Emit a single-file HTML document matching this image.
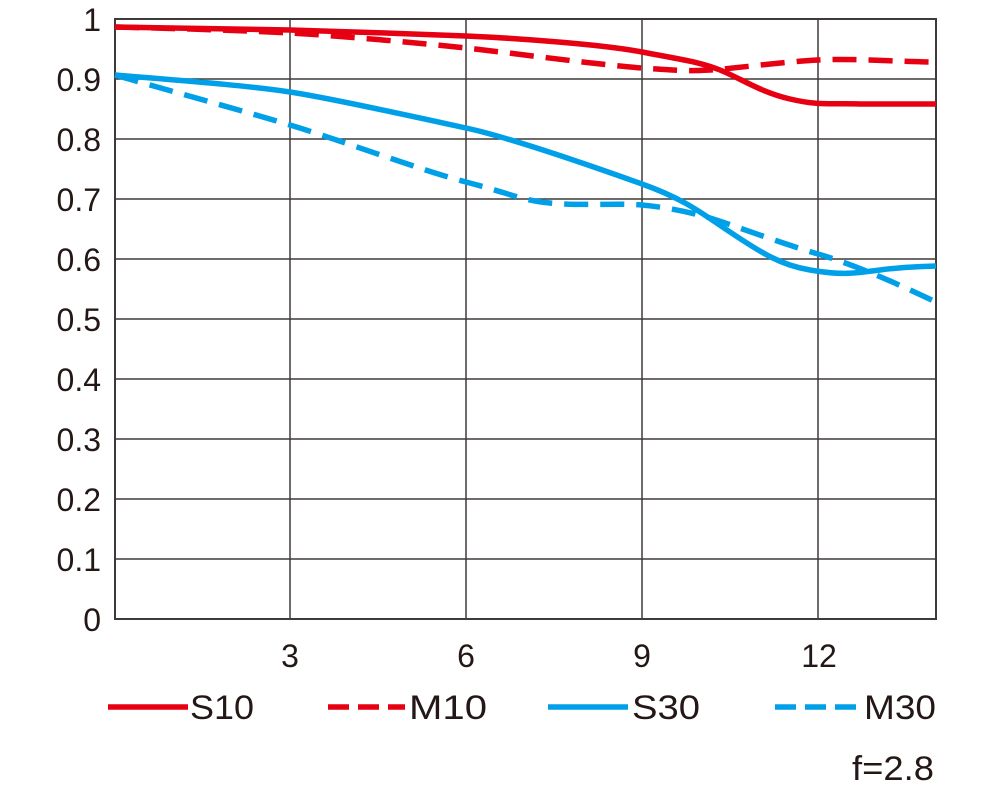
<!DOCTYPE html>
<html><head><meta charset="utf-8"><style>body{margin:0;background:#fff}svg{display:block}text{font-family:"Liberation Sans",sans-serif;fill:#231815}</style></head><body>
<svg width="1000" height="789" viewBox="0 0 1000 789">
<g stroke="#3e3a39" stroke-width="1.5" fill="none">
<path d="M115 79H936M115 139H936M115 199H936M115 259H936M115 319H936M115 379H936M115 439H936M115 499H936M115 559H936"/>
<path d="M290 19V619M466 19V619M642 19V619M818 19V619"/>
<rect x="115" y="19" width="821" height="600" stroke-width="2"/>
</g>
<g font-size="32" text-anchor="end">
<text x="101" y="31">1</text><text x="101" y="91">0.9</text><text x="101" y="151">0.8</text><text x="101" y="211">0.7</text><text x="101" y="271">0.6</text><text x="101" y="331">0.5</text><text x="101" y="391">0.4</text><text x="101" y="451">0.3</text><text x="101" y="511">0.2</text><text x="101" y="571">0.1</text><text x="101" y="631">0</text>
</g>
<g font-size="32" text-anchor="middle">
<text x="290" y="667">3</text><text x="466" y="667">6</text><text x="642" y="667">9</text><text x="819" y="667">12</text>
</g>
<g fill="none" stroke-width="5.5">
<path stroke="#e60012" d="M115 27C200 28 250 29 290 30S420 34 466 36S600 44 642 52S700 62 720 70S760 92 790 99S830 103 860 104L936 104"/>
<path stroke="#e60012" stroke-dasharray="24 12" d="M115 27C200 29 250 31 290 33S420 43 466 48S600 65 642 68S690 71 710 70S780 62 818 60S900 62 936 62"/>
<path stroke="#00a0e9" d="M115 75C200 82 250 86 290 92S420 118 466 128S600 169 642 184S700 212 730 232S780 265 810 270S850 274 880 270S920 267 936 266"/>
<path stroke="#00a0e9" stroke-dasharray="24 12" d="M115 75C160 88 240 110 290 125S420 170 466 182S520 200 550 203S620 203 642 205S690 212 710 218S780 243 818 254S900 285 936 302"/>
</g>
<g stroke-width="5.5">
<path stroke="#e60012" d="M108 707H188"/>
<path stroke="#e60012" d="M328 707H405" stroke-dasharray="21 9"/>
<path stroke="#00a0e9" d="M548 707H628"/>
<path stroke="#00a0e9" d="M775 707H857" stroke-dasharray="21 9"/>
</g>
<g font-size="34">
<text x="190" y="719" textLength="64" lengthAdjust="spacingAndGlyphs">S10</text><text x="409" y="719" textLength="78" lengthAdjust="spacingAndGlyphs">M10</text><text x="632" y="719" textLength="68" lengthAdjust="spacingAndGlyphs">S30</text><text x="864" y="719" textLength="72" lengthAdjust="spacingAndGlyphs">M30</text>
<text x="852" y="780" textLength="82" lengthAdjust="spacingAndGlyphs">f=2.8</text>
</g>
</svg>
</body></html>
